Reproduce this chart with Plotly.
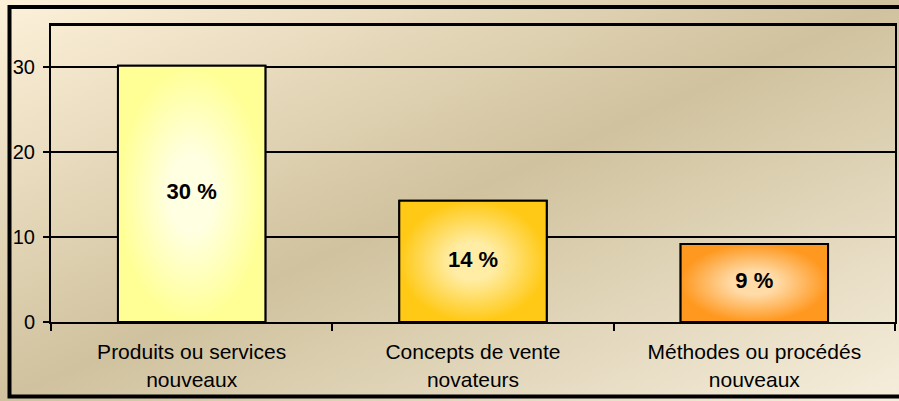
import base64
import plotly.graph_objects as go

# ---- data ----
categories = ["Produits ou services nouveaux", "Concepts de vente novateurs", "Méthodes ou procédés nouveaux"]
tick_labels = ["Produits ou services<br>nouveaux", "Concepts de vente<br>novateurs", "Méthodes ou procédés<br>nouveaux"]
values = [30.2, 14.3, 9.2]
value_labels = ["30 %", "14 %", "9 %"]
y_ticks = [0, 10, 20, 30]

# ---- styles ----
edge_colors = ["#FFFF96", "#FFC915", "#FF981F"]
center_colors = ["#FFFFE2", "#FFEDA6", "#FFDBA8"]
FONT = "Liberation Sans, Arial, sans-serif"

W, H = 899, 401
ML, MR, MT, MB = 51, 4, 25, 79
PW, PH = W - ML - MR, H - MT - MB

def px_x(p):
    return (p - ML) / PW

def px_y(p):
    return (H - MB - p) / PH

bg_svg = (
    '<svg xmlns="http://www.w3.org/2000/svg" width="899" height="401" preserveAspectRatio="none" viewBox="0 0 899 401">'
    '<defs><linearGradient id="g" x1="0" y1="0" x2="1" y2="1">'
    '<stop offset="0" stop-color="#FDF1DA"/>'
    '<stop offset="0.5" stop-color="#D0C29E"/>'
    '<stop offset="1" stop-color="#F6EEDC"/>'
    '</linearGradient></defs>'
    '<rect x="0" y="0" width="899" height="401" fill="url(#g)"/></svg>'
)
bg_uri = "data:image/svg+xml;base64," + base64.b64encode(bg_svg.encode()).decode()

fig = go.Figure()

bar_width = 1 - 0.476
half = bar_width / 2
fig.add_trace(go.Bar(
    x=categories, y=values,
    marker=dict(color=edge_colors, line=dict(color="black", width=2)),
    width=bar_width,
    textposition="none",
    hoverinfo="skip",
    showlegend=False,
))

# gradient overlays following each bar (same category positions, numeric overlay axis)
for i, v in enumerate(values):
    xs = [i - half, i + half, i + half, i - half, i - half]
    ys = [0, 0, v, v, 0]
    fig.add_trace(go.Scatter(
        x=xs, y=ys, xaxis="x2", mode="lines", fill="toself",
        line=dict(color="black", width=2),
        fillgradient=dict(type="radial",
                          colorscale=[[0, center_colors[i]], [0.3, center_colors[i]], [1, edge_colors[i]]]),
        hoverinfo="skip", showlegend=False,
    ))

fig.add_trace(go.Scatter(
    x=list(range(len(values))), y=[v / 2 for v in values], xaxis="x2", mode="text",
    text=value_labels,
    textfont=dict(family=FONT, size=22, color="black", weight="bold"),
    hoverinfo="skip", showlegend=False,
))

fig.update_layout(
    width=W, height=H,
    margin=dict(l=ML, r=MR, t=MT, b=MB, autoexpand=False),
    paper_bgcolor="#E6DCC0",
    plot_bgcolor="rgba(0,0,0,0)",
    font=dict(family=FONT, size=20, color="black"),
    bargap=0.476,
    xaxis=dict(
        type="category",
        tickvals=categories, ticktext=tick_labels,
        tickfont=dict(size=21),
        ticks="outside", tickson="boundaries", ticklen=7, tickwidth=2, tickcolor="black",
        ticklabelstandoff=10,
        showline=True, linecolor="black", linewidth=2, mirror=True,
        showgrid=False, zeroline=False, automargin=False,
        range=[-0.5, 2.5],
    ),
    xaxis2=dict(overlaying="x", range=[-0.5, 2.5], visible=False),
    yaxis=dict(
        range=[0, 35], tickvals=y_ticks,
        ticks="outside", ticklen=6, tickwidth=2, tickcolor="black",
        ticklabelstandoff=4,
        showline=True, linecolor="black", linewidth=2, mirror=True,
        showgrid=True, gridcolor="black", gridwidth=2, zeroline=False, automargin=False,
    ),
    images=[dict(
        source=bg_uri, xref="paper", yref="paper",
        x=px_x(0), y=px_y(0), sizex=W / PW, sizey=H / PH,
        xanchor="left", yanchor="top", sizing="stretch", layer="below",
    )],
    shapes=[
        dict(
            type="rect", xref="paper", yref="paper",
            x0=px_x(9.5), x1=px_x(915), y0=px_y(396.5), y1=px_y(7),
            line=dict(color="black", width=4), fillcolor="rgba(0,0,0,0)", layer="above",
        ),
        dict(
            type="line", xref="paper", yref="paper",
            x0=0, x1=1, y0=1, y1=1,
            line=dict(color="black", width=2), layer="above",
        ),
    ],
)

fig.write_html(
    "out.html",
    config={"displayModeBar": False},
    post_script="document.body.style.margin='0';document.body.style.overflow='hidden';",
)
